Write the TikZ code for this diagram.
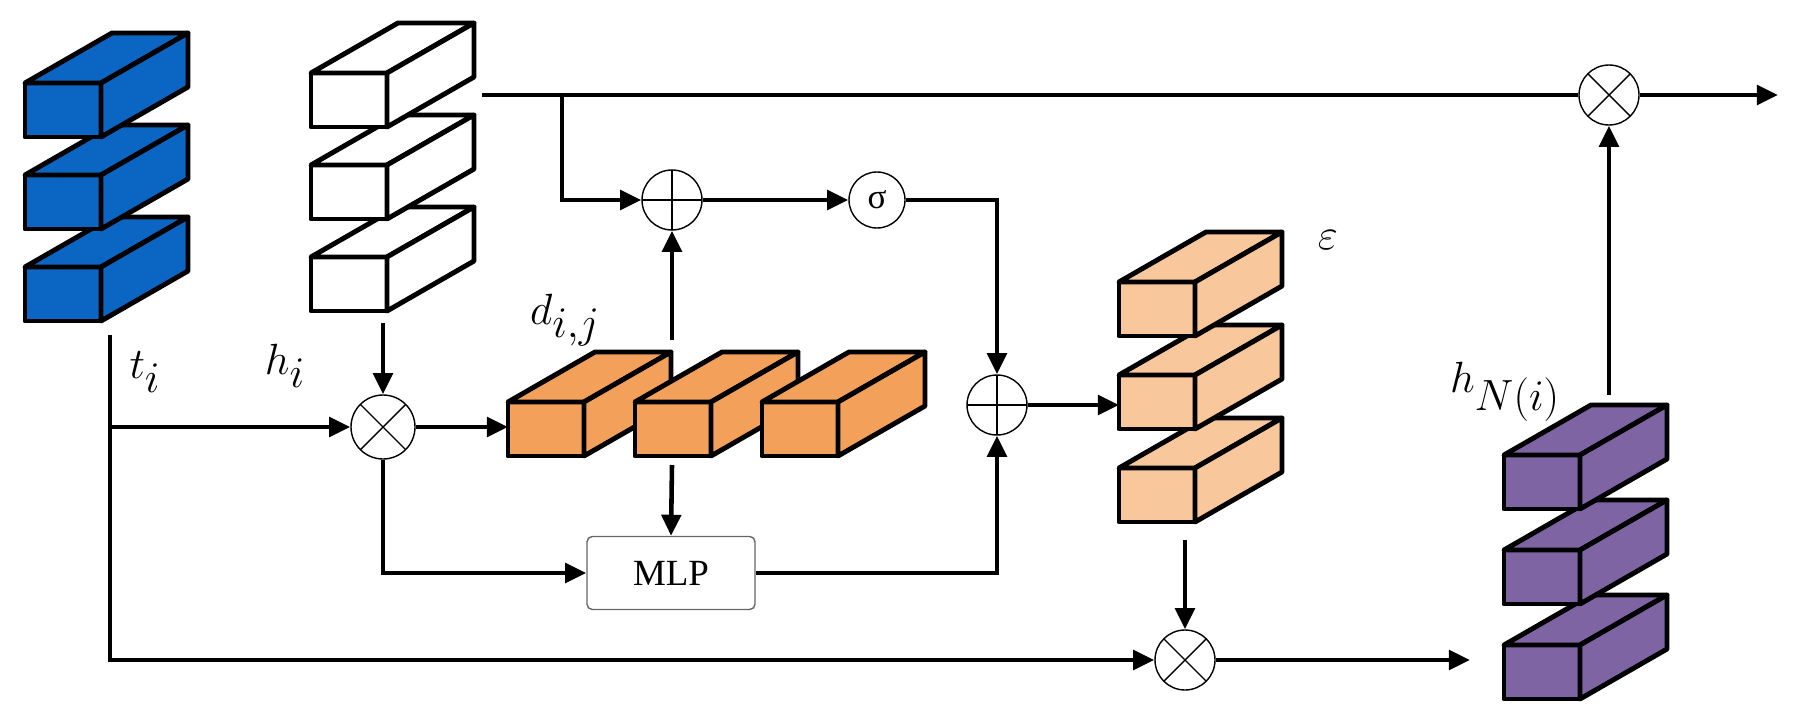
\documentclass[tikz,border=0pt]{standalone}
\usepackage{fontspec}
\setmainfont{Liberation Serif}
\usetikzlibrary{arrows.meta}
\definecolor{cblue}{HTML}{0A66C2}
\definecolor{corange}{HTML}{F2A05A}
\definecolor{clight}{HTML}{F8C79C}
\definecolor{cpurple}{HTML}{7E64A3}
\begin{document}
\begin{tikzpicture}[x=0.02cm,y=-0.02cm,
  box/.style={line width=2.8pt,line join=round},
  cube/.pic={\draw[box,fill=#1] (0,0) rectangle (76,54);
             \draw[box,fill=#1] (0,0)--(87,-50)--(163,-50)--(76,0)--cycle;
             \draw[box,fill=#1] (76,0)--(163,-50)--(163,4)--(76,54)--cycle;},
  ln/.style={line width=2.6pt},
  arr/.style={ln,-{Triangle[length=12pt,width=11pt]}},
  op/.style={circle,draw,line width=0.8pt,minimum size=60*0.02cm,inner sep=0pt,
     path picture={\draw[line width=0.8pt] (path picture bounding box.north)--(path picture bounding box.south)
        (path picture bounding box.west)--(path picture bounding box.east);}},
  ot/.style={circle,draw,line width=0.8pt,minimum size=60*0.02cm,inner sep=0pt,
     path picture={\draw[line width=0.8pt] (path picture bounding box.north west)--(path picture bounding box.south east)
        (path picture bounding box.south west)--(path picture bounding box.north east);}},
  lbl/.style={font=\fontsize{50}{50}\selectfont,inner sep=0pt}]
\useasboundingbox (0,0) rectangle (1799,710);
% stacks
\foreach \y in {267,175,83} \pic at (25,\y) {cube=cblue};
\foreach \y in {257,165,73} \pic at (311,\y) {cube=white};
\foreach \x in {508,635,762} \pic at (\x,402) {cube=corange};
\foreach \y in {468,375,282} \pic at (1119,\y) {cube=clight};
\foreach \y in {645,550,455} \pic at (1504,\y) {cube=cpurple};
% nodes
\node[op] (p1) at (672,200) {};
\node[circle,draw,line width=0.8pt,minimum size=56*0.02cm,inner sep=0pt,font=\fontsize{20}{20}\selectfont] (sg) at (877,200) {σ};
\node[op] (p2) at (997,405) {};
\node[ot,minimum height=64*0.02cm] (x1) at (383,427) {};
\node[ot] (x2) at (1609,95) {};
\node[ot] (x3) at (1185,660) {};
\node[draw=black!60,line width=0.8pt,rounded corners=3pt,minimum width=168*0.02cm,minimum height=73*0.02cm,font=\fontsize{21}{21}\selectfont] (mlp) at (671,573) {MLP};
% coordinates
\coordinate (hT) at (482,95);
\coordinate (br) at (562,95);
\coordinate (tS) at (110,335);
\coordinate (dL) at (508,427);
\coordinate (dT) at (672,340);
\coordinate (dB) at (672,465);
\coordinate (eL) at (1119,405);
\coordinate (eB) at (1185,540);
\coordinate (nT) at (1609,395);
\coordinate (nL) at (1470,660);
\coordinate (out) at (1778,95);
% connectors
\draw[ln] (hT) -- (x2.west);
\draw[arr] (x2.east) -- (out);
\draw[arr] (br) |- (p1.west);
\draw[arr] (p1.east) -- (sg.west);
\draw[arr] (sg.east) -| (p2.north);
\draw[arr] (dT) -- (p1.south);
\draw[arr] (dB) -- (mlp.north);
\draw[arr] (mlp.east) -| (p2.south);
\draw[arr] (p2.east) -- (eL);
\draw[arr] (383,323) -- (x1.north);
\draw[arr] (tS) |- (x1.west);
\draw[arr] (x1.east) -- (dL);
\draw[arr] (x1.south) |- (mlp.west);
\draw[arr] (tS) |- (x3.west);
\draw[arr] (eB) -- (x3.north);
\draw[arr] (x3.east) -- (nL);
\draw[arr] (nT) -- (x2.south);
% labels
\node[lbl] at (145,372) {$t_i$};
\node[lbl] at (285,366) {$h_i$};
\node[lbl,font=\fontsize{56}{56}\selectfont] at (565,320) {$d_{i,j}$};
\node[lbl] at (1328,240) {$\varepsilon$};
\node[lbl] at (1505,392) {$h_{N(i)}$};
\end{tikzpicture}
\end{document}
